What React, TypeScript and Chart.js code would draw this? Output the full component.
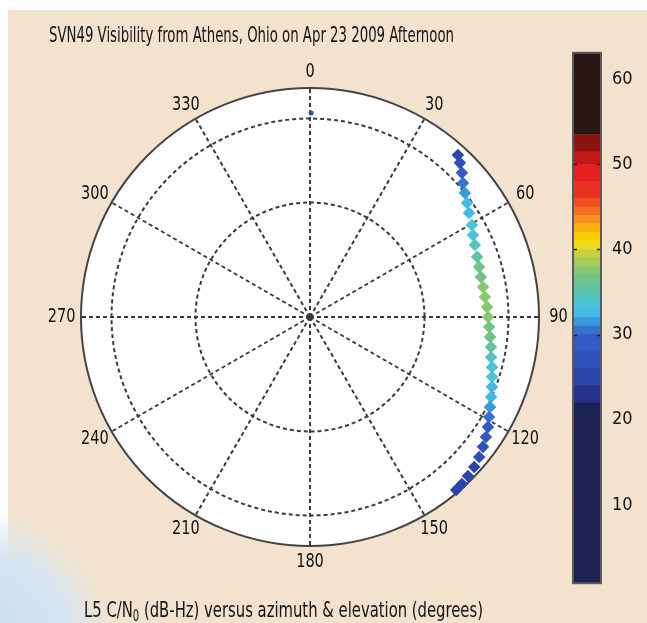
import React, { useEffect, useLayoutEffect, useRef } from "react";
import { Chart, registerables } from "chart.js";

Chart.register(...registerables);

// ---------- DATA ----------
// Satellite track samples: azimuth (deg), elevation (deg), C/N0 (dB-Hz)
const trackAzimuth = [
  42.4, 44.2, 46.5, 48.8, 51.3, 54.0, 56.8, 60.4, 63.3, 66.4, 70.2, 73.5,
  76.8, 80.2, 83.5, 86.8, 90.0, 93.2, 96.3, 99.4, 102.5, 105.4, 108.2, 111.0,
  113.8, 116.6, 119.2, 121.7, 124.3, 126.9, 129.6, 132.4, 135.2, 137.7, 139.8,
];
const trackElevation = [
  3.8, 5.5, 7.7, 10.1, 12.0, 13.7, 15.3, 16.8, 18.3, 19.3, 20.2, 20.7, 21.0,
  21.0, 20.8, 20.3, 20.0, 19.5, 18.8, 17.9, 17.1, 15.8, 14.7, 13.4, 12.2,
  10.9, 9.4, 7.8, 6.3, 5.0, 3.7, 2.6, 1.9, 1.3, 1.0,
];
const trackCn0 = [
  25.0, 27.0, 29.0, 30.5, 31.5, 32.0, 32.5, 33.0, 33.8, 34.5, 35.3, 36.0,
  36.5, 37.0, 37.3, 37.6, 37.2, 36.6, 36.0, 35.4, 34.6, 33.9, 33.2, 32.6,
  32.2, 31.5, 30.4, 29.0, 28.0, 27.0, 26.0, 25.5, 25.0, 25.5, 24.5,
];
// isolated sample near north
const loneAzimuth = [0.3];
const loneElevation = [9.8];
const loneCn0 = [27.0];

// polar grid
const angleTicks = [0, 30, 60, 90, 120, 150, 180, 210, 240, 270, 300, 330];
const ringValues = [45, 78]; // zenith angle rings
const radialMax = 90;

// colour bar
const cbLower = [0.8, 22, 24, 26, 28, 30, 31, 32, 33, 34, 35, 36, 37, 38, 39, 40, 41, 42, 43, 44, 45, 46, 48, 50, 51.5, 53.5];
const cbUpper = [22, 24, 26, 28, 30, 31, 32, 33, 34, 35, 36, 37, 38, 39, 40, 41, 42, 43, 44, 45, 46, 48, 50, 51.5, 53.5, 63.1];
const cbColors = [
  "#1e2252", "#26318c", "#2c45aa", "#2f50b8", "#3359c4", "#3572d2", "#3a98dc",
  "#44bae6", "#4cc3d8", "#55c4ba", "#60c4a2", "#70c488", "#88c870", "#a8cc58",
  "#c8d040", "#f0d818", "#f8cc00", "#f8b010", "#f69020", "#f07020", "#ee5020",
  "#ea3020", "#e42020", "#c41818", "#8c1410", "#2a1612",
];
const cbTicks = [10, 20, 30, 40, 50, 60];
const cbMin = 0.8;
const cbMax = 63.1;

const FONT = "'DejaVu Sans Condensed', 'DejaVu Sans', sans-serif";

function colorFor(v: number): string {
  for (let i = 0; i < cbLower.length; i++) {
    if (v >= cbLower[i] && v < cbUpper[i]) return cbColors[i];
  }
  return cbColors[cbColors.length - 1];
}

function toXY(az: number, el: number) {
  const rho = radialMax - el;
  const t = (az * Math.PI) / 180;
  return { x: rho * Math.sin(t), y: rho * Math.cos(t) };
}

const polarGrid = {
  id: "polarGrid",
  beforeDatasetsDraw(chart: any) {
    const ctx = chart.ctx as CanvasRenderingContext2D;
    const xs = chart.scales.x;
    const ys = chart.scales.y;
    const cx = xs.getPixelForValue(0);
    const cy = ys.getPixelForValue(0);
    const rx = xs.getPixelForValue(radialMax) - cx;
    const ry = cy - ys.getPixelForValue(radialMax);
    ctx.save();
    ctx.fillStyle = "#ffffff";
    ctx.beginPath();
    ctx.ellipse(cx, cy, rx, ry, 0, 0, Math.PI * 2);
    ctx.fill();

    ctx.strokeStyle = "#3a3a3a";
    ctx.lineWidth = 2;
    ctx.setLineDash([4, 3]);
    for (const r of ringValues) {
      ctx.beginPath();
      ctx.ellipse(cx, cy, (rx * r) / radialMax, (ry * r) / radialMax, 0, 0, Math.PI * 2);
      ctx.stroke();
    }
    for (const a of angleTicks) {
      const t = (a * Math.PI) / 180;
      ctx.beginPath();
      ctx.moveTo(cx, cy);
      ctx.lineTo(cx + rx * Math.sin(t), cy - ry * Math.cos(t));
      ctx.stroke();
    }
    ctx.setLineDash([]);
    ctx.strokeStyle = "#444444";
    ctx.lineWidth = 2;
    ctx.beginPath();
    ctx.ellipse(cx, cy, rx, ry, 0, 0, Math.PI * 2);
    ctx.stroke();

    ctx.fillStyle = "#111111";
    ctx.font = `19px ${FONT}`;
    ctx.textAlign = "center";
    ctx.textBaseline = "middle";
    for (const a of angleTicks) {
      const t = (a * Math.PI) / 180;
      const lx = cx + rx * 1.085 * Math.sin(t);
      const ly = cy - ry * 1.07 * Math.cos(t);
      ctx.save();
      ctx.translate(lx, ly);
      ctx.scale(0.85, 1);
      ctx.fillText(String(a), 0, 0);
      ctx.restore();
    }
    ctx.restore();
  },
};

const cbFrame = {
  id: "cbFrame",
  afterDatasetsDraw(chart: any) {
    const ctx = chart.ctx as CanvasRenderingContext2D;
    const { left, right, top, bottom } = chart.chartArea;
    const ys = chart.scales.y;
    ctx.save();
    ctx.strokeStyle = "#222222";
    ctx.lineWidth = 1.5;
    for (const v of cbTicks) {
      const y = Math.round(ys.getPixelForValue(v)) + 0.5;
      ctx.beginPath();
      ctx.moveTo(left, y);
      ctx.lineTo(left + 4, y);
      ctx.moveTo(right, y);
      ctx.lineTo(right - 4, y);
      ctx.stroke();
    }
    ctx.strokeStyle = "#5a5a5a";
    ctx.lineWidth = 2;
    ctx.strokeRect(left, top, right - left, bottom - top);
    ctx.restore();
  },
};

function FitText(props: { left: number; top: number; width: number; size: number; children: React.ReactNode }) {
  const ref = useRef<HTMLDivElement>(null);
  useLayoutEffect(() => {
    const el = ref.current;
    if (!el) return;
    el.style.transform = "none";
    const w = el.getBoundingClientRect().width;
    if (w > 0) el.style.transform = `scaleX(${props.width / w})`;
  });
  return (
    <div
      ref={ref}
      style={{
        position: "absolute",
        left: props.left,
        top: props.top,
        whiteSpace: "nowrap",
        fontFamily: FONT,
        fontSize: props.size,
        color: "#141414",
        transformOrigin: "left top",
        display: "inline-block",
      }}
    >
      {props.children}
    </div>
  );
}

export default function App() {
  const mainRef = useRef<HTMLCanvasElement>(null);
  const cbRef = useRef<HTMLCanvasElement>(null);

  useEffect(() => {
    const trackPts = trackAzimuth.map((az, i) => toXY(az, trackElevation[i]));
    const lonePts = loneAzimuth.map((az, i) => toXY(az, loneElevation[i]));
    const main = new Chart(mainRef.current!, {
      type: "scatter",
      data: {
        datasets: [
          {
            data: lonePts,
            pointStyle: "circle",
            pointRadius: 2.5,
            pointBorderWidth: 0,
            pointBackgroundColor: loneCn0.map(colorFor),
          },
          {
            data: trackPts,
            pointStyle: "rectRot",
            pointRadius: 6.3,
            pointBorderWidth: 0,
            pointBackgroundColor: trackCn0.map(colorFor),
          },
        ],
      },
      options: {
        responsive: false,
        animation: false,
        layout: { padding: { left: 81, top: 88, right: 108, bottom: 77 } },
        scales: {
          x: { type: "linear", min: -radialMax, max: radialMax, display: false },
          y: { type: "linear", min: -radialMax, max: radialMax, display: false },
        },
        plugins: { legend: { display: false }, tooltip: { enabled: false } },
      },
      plugins: [polarGrid],
    });

    const cb = new Chart(cbRef.current!, {
      type: "bar",
      data: {
        labels: ["C/N0"],
        datasets: cbLower.map((lo, i) => ({
          data: [[lo, cbUpper[i]]] as any,
          backgroundColor: cbColors[i],
          borderWidth: 0,
          barPercentage: 1,
          categoryPercentage: 1,
          grouped: false,
        })),
      },
      options: {
        responsive: false,
        animation: false,
        layout: { padding: { left: 13, top: 0, bottom: 0, right: 0 } },
        scales: {
          x: { display: false },
          y: {
            position: "right",
            min: cbMin,
            max: cbMax,
            afterBuildTicks: (s: any) => {
              s.ticks = cbTicks.map((v) => ({ value: v }));
            },
            afterFit: (s: any) => {
              s.width = 46;
            },
            grid: { display: false, drawTicks: false },
            border: { display: false },
            ticks: { color: "#111111", padding: 11, font: { family: FONT, size: 18 } },
          },
        },
        plugins: { legend: { display: false }, tooltip: { enabled: false } },
      },
      plugins: [cbFrame],
    });

    return () => {
      main.destroy();
      cb.destroy();
    };
  }, []);

  return (
    <div style={{ position: "absolute", left: 0, top: 0, width: 647, height: 623, background: "#ffffff", overflow: "hidden" }}>
      <div style={{ position: "absolute", left: 8, top: 10, right: 0, bottom: 0, background: "#f3e3ce" }} />
      <div
        style={{
          position: "absolute",
          left: -170,
          top: 505,
          width: 290,
          height: 280,
          borderRadius: "50%",
          background: "radial-gradient(ellipse at 45% 55%, #c6daee 0%, #d6e4f1 50%, rgba(228,234,238,0) 71%)",
        }}
      />
      <canvas ref={mainRef} width={647} height={623} style={{ position: "absolute", left: 0, top: 0 }} />
      <canvas ref={cbRef} width={87} height={574} style={{ position: "absolute", left: 560, top: 31 }} />
      <FitText left={49} top={22} width={405} size={22}>
        SVN49 Visibility from Athens, Ohio on Apr 23 2009 Afternoon
      </FitText>
      <FitText left={84} top={597} width={399} size={22}>
        L5 C/N<span style={{ fontSize: "0.68em", verticalAlign: "-0.28em" }}>0</span> (dB-Hz) versus azimuth &amp; elevation (degrees)
      </FitText>
    </div>
  );
}
